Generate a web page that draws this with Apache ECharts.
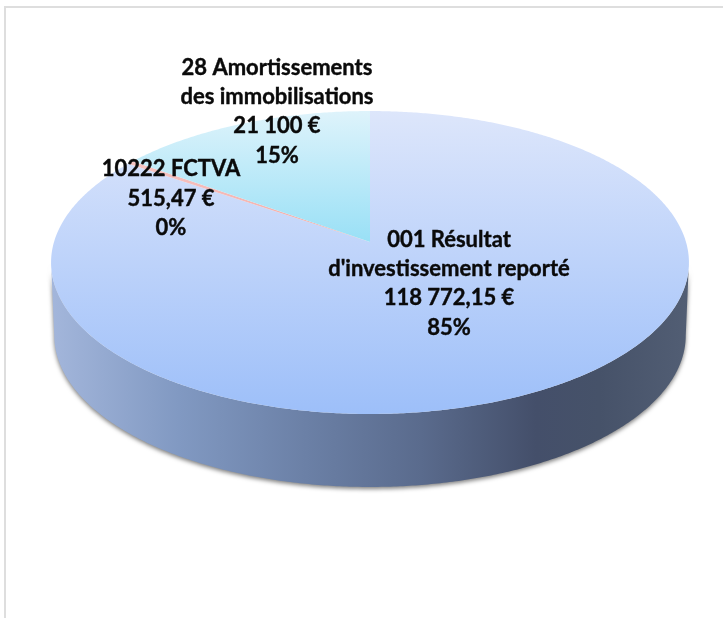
<!DOCTYPE html>
<html>
<head>
<meta charset="utf-8">
<style>
  html, body { margin: 0; padding: 0; background: #fff; }
  #chart { width: 723px; height: 618px; }
</style>
<script src="https://cdn.jsdelivr.net/npm/echarts@6/dist/echarts.min.js"></script>
</head>
<body>
<div id="chart"></div>
<script>
// slices, clockwise from 12 o'clock
const sliceValues = [118772.15, 515.47, 21100]
const sliceColors = [
  ['#dde6fb', '#9dbff9'],
  ['#f6c4c2', '#f2a9a6'],
  ['#def3fb', '#99e0f6'],
]
const labelLines = [
  ['001 Résultat', "d'investissement reporté", '118 772,15 €', '85%'],
  ['10222 FCTVA', '515,47 €', '0%'],
  ['28 Amortissements', 'des immobilisations', '21 100 €', '15%'],
]

// the tilted disc: circle -> screen, with a little perspective
const cx = 370, apexY = 242
const scaleX = 316, scaleY = 148.7, persp = 0.1353
const depth = 73, rimShrink = 0.99

const total = sliceValues.reduce((a, b) => a + b, 0)
const frontStart = Math.acos(-persp) * 180 / Math.PI
const frontEnd = 360 - frontStart

function project(deg, lower) {
  const t = deg * Math.PI / 180
  const u = Math.sin(t), v = -Math.cos(t)
  const w = 1 - persp * v
  const sx = lower ? scaleX * rimShrink : scaleX
  return [cx + sx * u / w, apexY + scaleY * v / w + (lower ? depth : 0)]
}

function arc(from, to, lower) {
  const pts = []
  const n = Math.max(2, Math.ceil(Math.abs(to - from) * 2))
  for (let i = 0; i <= n; i++) pts.push(project(from + (to - from) * i / n, lower))
  return pts
}

function sliceRange(idx) {
  let before = 0
  for (let i = 0; i < idx; i++) before += sliceValues[i]
  return [before / total * 360, (before + sliceValues[idx]) / total * 360]
}

function renderSlice(params, api) {
  const idx = params.dataIndex
  const [a0, a1] = sliceRange(idx)
  const children = []

  // front wall, only for the part of the slice facing the viewer
  const wa = Math.max(a0, frontStart), wb = Math.min(a1, frontEnd)
  if (wb > wa) {
    children.push({
      type: 'polygon',
      shape: { points: arc(wa, wb, false).concat(arc(wb, wa, true)) },
      style: {
        fill: new echarts.graphic.LinearGradient(0, 0, 1, 0, [
          { offset: 0, color: '#a3b6db' },
          { offset: 0.2, color: '#8199c2' },
          { offset: 0.4, color: '#6b80a6' },
          { offset: 0.58, color: '#5a6b8d' },
          { offset: 0.76, color: '#444f6a' },
          { offset: 0.86, color: '#465269' },
          { offset: 1, color: '#525e74' },
        ]),
        shadowBlur: 4,
        shadowOffsetY: 2,
        shadowColor: 'rgba(0,0,0,0.5)',
      },
    })
  }

  // top face
  children.push({
    type: 'polygon',
    shape: { points: [[cx, apexY]].concat(arc(a0, a1, false)) },
    style: {
      fill: new echarts.graphic.LinearGradient(0, 0, 0, 1, [
        { offset: 0, color: sliceColors[idx][0] },
        { offset: 1, color: sliceColors[idx][1] },
      ]),
    },
  })
  return { type: 'group', children }
}

const labelAnchors = [[449, 283.5], [171, 198.5], [277, 111.5]]

function renderLabel(params) {
  const idx = params.dataIndex
  return {
    type: 'text',
    x: labelAnchors[idx][0],
    y: labelAnchors[idx][1],
    style: {
      text: labelLines[idx].join('\n'),
      font: 'bold 22px Lato, "Noto Sans", sans-serif',
      lineHeight: 29.3,
      fill: '#0a0a0a',
      stroke: '#0a0a0a',
      lineWidth: 0.4,
      align: 'center',
      verticalAlign: 'middle',
    },
  }
}

const chart = echarts.init(document.getElementById('chart'), null, { renderer: 'canvas' })
chart.setOption({
  animation: false,
  backgroundColor: '#fff',
  graphic: [
    { type: 'line', silent: true, shape: { x1: 4, y1: 7, x2: 723, y2: 7 }, style: { stroke: '#dedede', lineWidth: 2 } },
    { type: 'line', silent: true, shape: { x1: 5, y1: 6, x2: 5, y2: 618 }, style: { stroke: '#dedede', lineWidth: 2 } },
  ],
  series: [
    {
      type: 'custom',
      coordinateSystem: 'none',
      silent: true,
      data: sliceValues.map(v => [v]),
      renderItem: renderSlice,
      z: 2,
    },
    {
      type: 'custom',
      coordinateSystem: 'none',
      silent: true,
      data: sliceValues.map(v => [v]),
      renderItem: renderLabel,
      z: 3,
    },
  ],
})
</script>
</body>
</html>
